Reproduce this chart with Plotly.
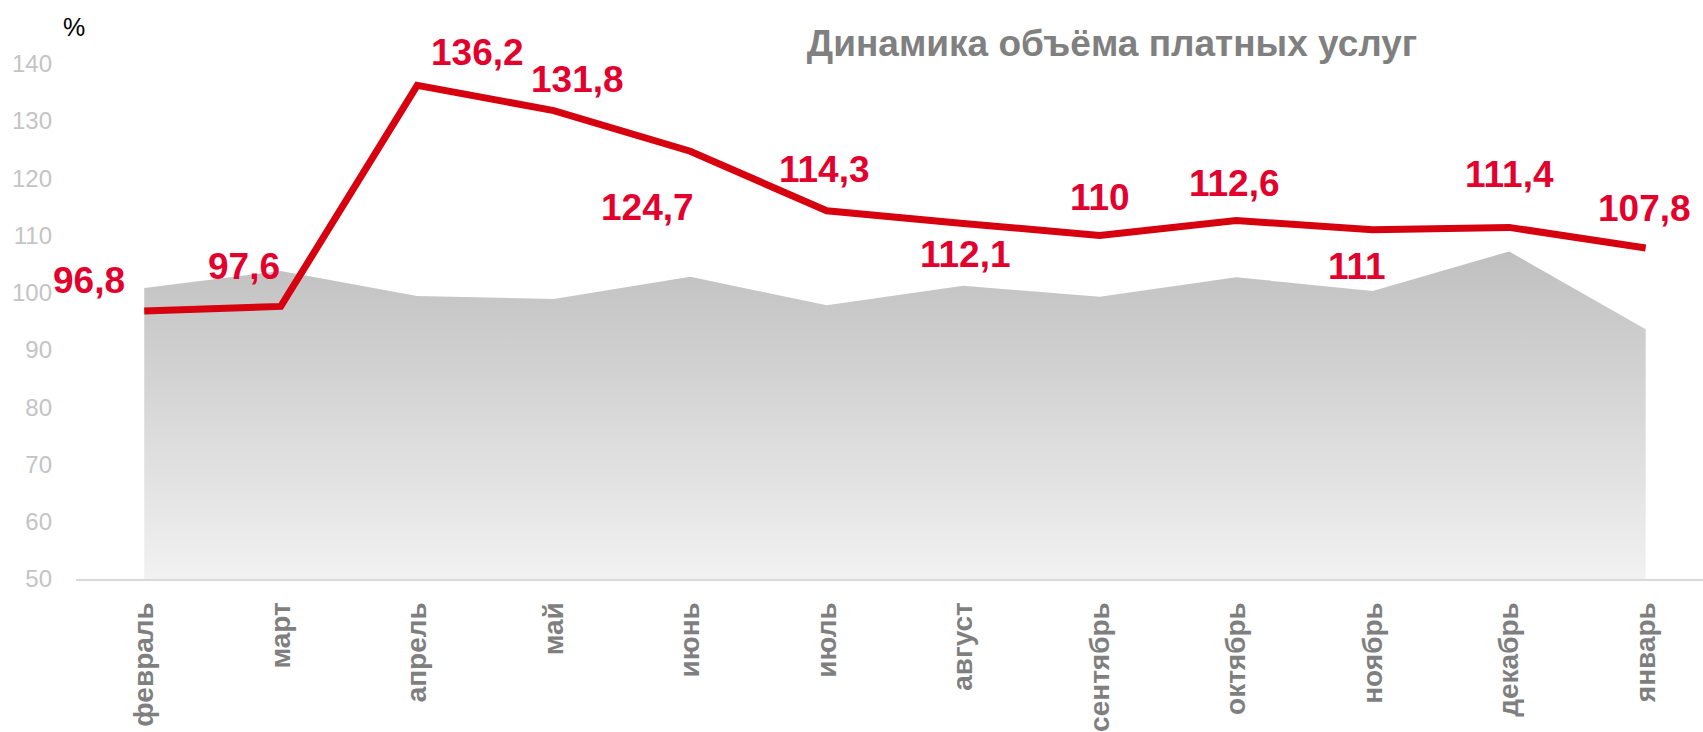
import plotly.graph_objects as go

months = ["февраль", "март", "апрель", "май", "июнь", "июль", "август",
          "сентябрь", "октябрь", "ноябрь", "декабрь", "январь"]
paid_services = [96.8, 97.6, 136.2, 131.8, 124.7, 114.3, 112.1, 110, 112.6, 111, 111.4, 107.8]
background_area = [100.8, 103.8, 99.4, 98.9, 102.8, 97.8, 101.2, 99.3, 102.7, 100.3, 107.2, 93.6]
value_labels = ["96,8", "97,6", "136,2", "131,8", "124,7", "114,3", "112,1",
                "110", "112,6", "111", "111,4", "107,8"]
y_ticks = [50, 60, 70, 80, 90, 100, 110, 120, 130, 140]
title_text = "Динамика объёма платных услуг"

# label offsets in pixels (styling)
label_dx = [-55, -37, 60, 24, -43, -2, 2, 0, -2, -16, 0, -1]
label_dy = [-31, -40, -33, -31, 56, -41, 31, -38, -37, 37, -53, -40]

FONT = "Liberation Sans, Arial, sans-serif"
RED_LINE = "#D7000F"
RED_TEXT = "#E3002D"

fig = go.Figure()

fig.add_trace(go.Scatter(
    x=months, y=background_area, mode="lines", fill="tozeroy",
    line=dict(width=0, color="rgba(0,0,0,0)"),
    fillgradient=dict(type="vertical", start=50, stop=107.2,
                      colorscale=[[0, "#F2F2F2"], [1, "#C0C0C0"]]),
    hoverinfo="skip", showlegend=False,
))

fig.add_trace(go.Scatter(
    x=months, y=paid_services, mode="lines",
    line=dict(width=7, color=RED_LINE),
    hoverinfo="skip", showlegend=False,
))

annotations = []
for m, v, t, dx, dy in zip(months, paid_services, value_labels, label_dx, label_dy):
    annotations.append(dict(
        x=m, y=v, xref="x", yref="y", text=t, showarrow=False,
        xshift=dx, yshift=-dy, xanchor="center", yanchor="middle",
        font=dict(family=FONT, size=37, color=RED_TEXT, weight="bold"),
    ))

annotations.append(dict(
    x=-0.001, y=1.0146, xref="paper", yref="paper", text="%", showarrow=False,
    xanchor="center", yanchor="middle",
    font=dict(family=FONT, size=25, color="#000000"),
))

fig.update_layout(
    width=1703, height=732,
    margin=dict(l=76, r=0, t=35, b=149),
    paper_bgcolor="white", plot_bgcolor="white",
    title=dict(text=title_text, x=0.653, y=0.941, xanchor="center", yanchor="middle",
               xref="container", yref="container",
               font=dict(family=FONT, size=37, color="#808080", weight="bold")),
    annotations=annotations,
    xaxis=dict(
        type="category", range=[-0.5, 11.42], showgrid=False,
        showline=True, linecolor="#D9D9D9", linewidth=2,
        ticks="", tickangle=-90, ticklabelstandoff=10,
        tickfont=dict(family=FONT, size=28, color="#7F7F7F", weight="bold"),
        zeroline=False, fixedrange=True,
    ),
    yaxis=dict(
        range=[50, 145], tickvals=y_ticks, showgrid=False, zeroline=False,
        showline=False, ticks="", ticklabelstandoff=23,
        tickfont=dict(family=FONT, size=24, color="#C4C4C4"),
        fixedrange=True,
    ),
)

fig.write_html("out.html", config={"displayModeBar": False},
               post_script="document.body.style.margin='0';document.body.style.overflow='hidden';")
